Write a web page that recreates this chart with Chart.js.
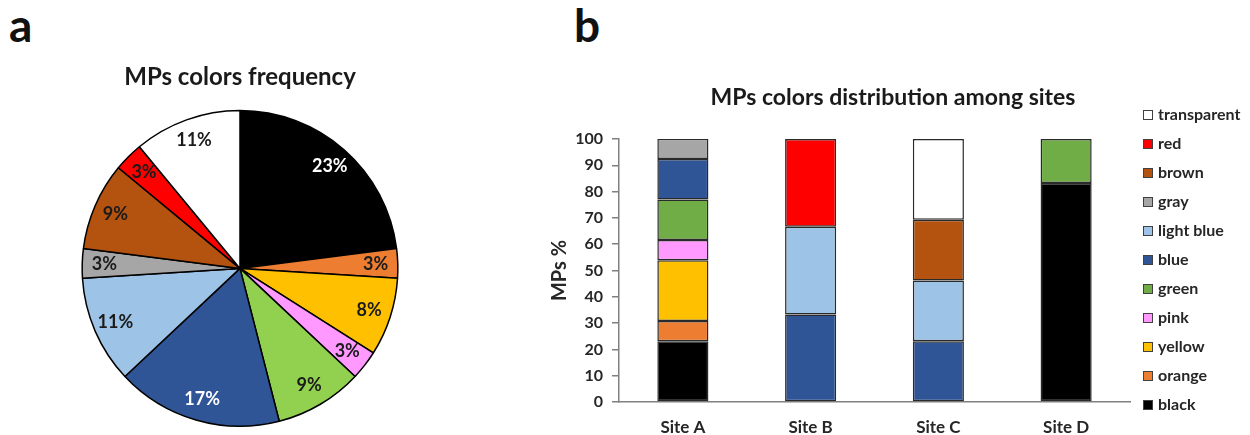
<!DOCTYPE html>
<html>
<head>
<meta charset="utf-8">
<script src="https://cdn.jsdelivr.net/npm/chart.js@4.4.1/dist/chart.umd.min.js"></script>
<style>
  body { margin: 0; background: #fff; width: 1250px; height: 435px; position: relative; overflow: hidden; }
  .panel { position: absolute; top: 2px; font: bold 46px Lato, sans-serif; line-height: 1; color: #111; }
</style>
</head>
<body>
<div class="panel" style="left:9px">a</div>
<div class="panel" style="left:574px">b</div>
<canvas id="pieChart" width="480" height="435" style="position:absolute;left:0;top:0"></canvas>
<canvas id="barChart" width="714" height="435" style="position:absolute;left:536px;top:0"></canvas>
<script>
// colour classes, bottom of the stack first / clockwise in the pie
const colorNames = ['black', 'orange', 'yellow', 'pink', 'green', 'blue', 'light blue', 'gray', 'brown', 'red', 'transparent'];
const pieShares = [23, 3, 8, 3, 9, 17, 11, 3, 9, 3, 11];

const sites = ['Site A', 'Site B', 'Site C', 'Site D'];
// % of MPs per site for each colour
const blackPct       = [23.1, null, null, 83.3];
const orangePct      = [7.7, null, null, null];
const yellowPct      = [23.1, null, null, null];
const pinkPct        = [7.7, null, null, null];
const greenPct       = [15.4, null, null, 16.7];
const bluePct        = [15.4, 33.3, 23.1, null];
const lightBluePct   = [null, 33.3, 23.1, null];
const grayPct        = [7.7, null, null, null];
const brownPct       = [null, null, 23.1, null];
const redPct         = [null, 33.4, null, null];
const transparentPct = [null, null, 30.7, null];

const yTicks = [0, 10, 20, 30, 40, 50, 60, 70, 80, 90, 100];

const pieColors = ['#000000', '#ED7D31', '#FFC000', '#FF99FF', '#92D050', '#2F5597', '#9DC3E6', '#A6A6A6', '#B4520F', '#FF0000', '#FFFFFF'];
const barColors = ['#000000', '#ED7D31', '#FFC000', '#FF99FF', '#70AD47', '#2F5597', '#9DC3E6', '#A6A6A6', '#B4520F', '#FF0000', '#FFFFFF'];
const textColor = '#262626';
const axisColor = '#808080';

Chart.defaults.font.family = 'Lato';
Chart.defaults.color = textColor;

// percentage labels inside the slices
const sliceLabels = {
  id: 'sliceLabels',
  afterDatasetsDraw(chart) {
    const ctx = chart.ctx;
    const values = chart.data.datasets[0].data;
    ctx.save();
    ctx.font = 'bold 18px Lato';
    ctx.textAlign = 'center';
    ctx.textBaseline = 'middle';
    chart.getDatasetMeta(0).data.forEach((arc, i) => {
      const p = arc.getProps(['x', 'y', 'startAngle', 'endAngle', 'outerRadius'], true);
      const mid = (p.startAngle + p.endAngle) / 2;
      const r = p.outerRadius * 0.86;
      ctx.fillStyle = (i === 0 || i === 5) ? '#ffffff' : '#1b1b1b';
      ctx.fillText(values[i] + '%', p.x + Math.cos(mid) * r, p.y + Math.sin(mid) * r);
    });
    ctx.restore();
  }
};

// title centred over the whole chart (plot + legend), like the original
const wideTitle = {
  id: 'wideTitle',
  afterDraw(chart, args, opts) {
    const ctx = chart.ctx;
    ctx.save();
    ctx.font = 'bold 23px Lato';
    ctx.fillStyle = '#1a1a1a';
    ctx.textAlign = 'center';
    ctx.textBaseline = 'middle';
    ctx.fillText(opts.text, chart.width / 2, 98);
    ctx.restore();
  }
};

// vertical legend on the right, top of the stack first
const sideLegend = {
  id: 'sideLegend',
  afterDraw(chart) {
    const ctx = chart.ctx;
    const sets = chart.data.datasets.slice().reverse();
    const x = chart.chartArea.right + 13;
    ctx.save();
    ctx.font = 'bold 16px Lato';
    ctx.textBaseline = 'middle';
    sets.forEach((ds, i) => {
      const y = 115 + i * 29;
      ctx.fillStyle = ds.backgroundColor;
      ctx.fillRect(x, y - 5, 10, 10);
      ctx.strokeStyle = '#404040';
      ctx.lineWidth = 1;
      ctx.strokeRect(x + 0.5, y - 4.5, 9, 9);
      ctx.fillStyle = textColor;
      ctx.fillText(ds.label, x + 15, y);
    });
    ctx.restore();
  }
};

new Chart(document.getElementById('pieChart'), {
  type: 'pie',
  data: {
    labels: colorNames,
    datasets: [{
      data: pieShares,
      backgroundColor: pieColors,
      borderColor: '#000000',
      borderWidth: 1.5
    }]
  },
  options: {
    responsive: false,
    animation: false,
    layout: { padding: { bottom: 8 } },
    plugins: {
      legend: { display: false },
      tooltip: { enabled: false },
      title: {
        display: true,
        text: 'MPs colors frequency',
        color: '#1a1a1a',
        font: { size: 24, weight: 'bold' },
        padding: { top: 63, bottom: 18 }
      }
    }
  },
  plugins: [sliceLabels]
});

const sitePcts = [blackPct, orangePct, yellowPct, pinkPct, greenPct, bluePct, lightBluePct, grayPct, brownPct, redPct, transparentPct];

new Chart(document.getElementById('barChart'), {
  type: 'bar',
  data: {
    labels: sites,
    datasets: colorNames.map((name, i) => ({
      label: name,
      data: sitePcts[i],
      backgroundColor: barColors[i],
      borderColor: '#2a2a2a',
      borderWidth: 1.5,
      borderSkipped: false,
      barPercentage: 0.4,
      categoryPercentage: 1
    }))
  },
  options: {
    responsive: false,
    animation: false,
    layout: { padding: { left: 11, right: 120, top: 139, bottom: 0 } },
    plugins: {
      legend: { display: false },
      tooltip: { enabled: false },
      title: { display: false },
      wideTitle: { text: 'MPs colors distribution among sites' }
    },
    scales: {
      x: {
        stacked: true,
        grid: { display: false, drawTicks: false },
        border: { color: axisColor, width: 1.5 },
        ticks: { padding: 15, color: textColor, font: { size: 17, weight: 'bold' } },
        afterFit(scale) { scale.height = 33; }
      },
      y: {
        stacked: true,
        min: yTicks[0],
        max: yTicks[yTicks.length - 1],
        afterBuildTicks(scale) { scale.ticks = yTicks.map(v => ({ value: v })); },
        grid: { drawOnChartArea: false, tickLength: 7, color: axisColor, lineWidth: 1.5 },
        border: { color: axisColor, width: 1.5 },
        ticks: { padding: 9, color: textColor, font: { size: 16, weight: 'bold' } },
        title: {
          display: true,
          text: 'MPs %',
          color: textColor,
          font: { size: 20, weight: 'bold' },
          padding: { top: 1, bottom: 0 }
        },
        afterFit(scale) { scale.width = 72; }
      }
    }
  },
  plugins: [wideTitle, sideLegend]
});
</script>
</body>
</html>
